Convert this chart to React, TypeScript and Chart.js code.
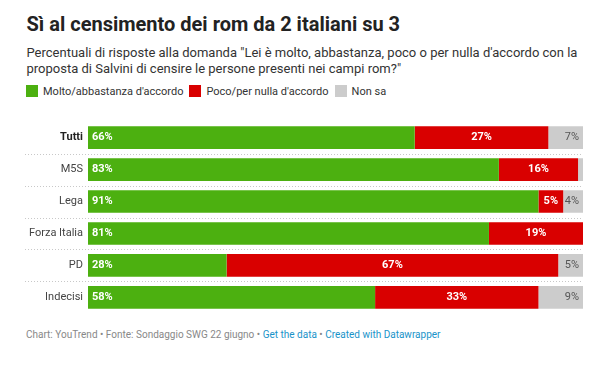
import React, { useEffect, useRef } from "react";
import { Chart, registerables } from "chart.js";

Chart.register(...registerables);

const categories = ["Tutti", "M5S", "Lega", "Forza Italia", "PD", "Indecisi"];
const molto = [66, 83, 91, 81, 28, 58];
const poco = [27, 16, 5, 19, 67, 33];
const nonSa = [7, 1, 4, 0, 5, 9];
const seriesNames = ["Molto/abbastanza d'accordo", "Poco/per nulla d'accordo", "Non sa"];
const colors = ["#4cb010", "#d90000", "#cccccc"];

const FONT = "Roboto, 'Noto Sans', sans-serif";

const separatorPlugin = {
  id: "separators",
  beforeDatasetsDraw(chart: any) {
    const { ctx, chartArea } = chart;
    const y = chart.scales.y;
    ctx.save();
    ctx.strokeStyle = "#c8c8c8";
    ctx.lineWidth = 1;
    ctx.setLineDash([1, 2]);
    for (let i = 0; i < categories.length - 1; i++) {
      const yy = Math.round((y.getPixelForValue(i) + y.getPixelForValue(i + 1)) / 2) + 0.5;
      ctx.beginPath();
      ctx.moveTo(17, yy);
      ctx.lineTo(chartArea.right, yy);
      ctx.stroke();
    }
    ctx.restore();
  },
};

const labelPlugin = {
  id: "barLabels",
  afterDatasetsDraw(chart: any) {
    const { ctx } = chart;
    ctx.save();
    ctx.textBaseline = "middle";
    chart.data.datasets.forEach((ds: any, di: number) => {
      const meta = chart.getDatasetMeta(di);
      meta.data.forEach((el: any, i: number) => {
        const v = ds.data[i];
        if (v < 3) return;
        const txt = v + "%";
        const start = Math.min(el.base, el.x);
        const end = Math.max(el.base, el.x);
        if (di === 0) {
          ctx.font = `bold 11px ${FONT}`;
          ctx.fillStyle = "#ffffff";
          ctx.textAlign = "left";
          ctx.fillText(txt, start + 4, el.y);
        } else if (di === 1) {
          ctx.font = `bold 11px ${FONT}`;
          ctx.fillStyle = "#ffffff";
          ctx.textAlign = "center";
          ctx.fillText(txt, (start + end) / 2, el.y);
        } else {
          ctx.font = `11px ${FONT}`;
          ctx.fillStyle = "#555555";
          ctx.textAlign = "right";
          ctx.fillText(txt, end - 4, el.y);
        }
      });
    });
    ctx.restore();
  },
};

function BarChart() {
  const ref = useRef<HTMLCanvasElement>(null);
  useEffect(() => {
    if (!ref.current) return;
    const chart = new Chart(ref.current, {
      type: "bar",
      data: {
        labels: categories,
        datasets: [molto, poco, nonSa].map((d, i) => ({
          label: seriesNames[i],
          data: d,
          backgroundColor: colors[i],
          borderWidth: 0,
          barPercentage: 0.71,
          categoryPercentage: 1,
        })),
      },
      options: {
        indexAxis: "y",
        animation: false,
        responsive: false,
        maintainAspectRatio: false,
        layout: { padding: { top: 7, bottom: 4, right: 20, left: 0 } },
        plugins: { legend: { display: false }, tooltip: { enabled: false } },
        scales: {
          x: { stacked: true, min: 0, max: 100, display: false },
          y: {
            stacked: true,
            grid: { display: false, drawTicks: false },
            border: { display: false },
            ticks: {
              padding: 5,
              color: (c: any) => (c.index === 0 ? "#222222" : "#444444"),
              font: (c: any) => ({ family: FONT, size: 11, weight: c.index === 0 ? "bold" : "normal" }),
            },
            afterFit: (s: any) => {
              s.width = 80;
            },
          },
        },
      },
      plugins: [separatorPlugin, labelPlugin],
    });
    return () => chart.destroy();
  }, []);
  return <canvas ref={ref} width={595} height={215} style={{ position: "absolute", left: 0, top: 102, width: 595, height: 215 }} />;
}

export default function App() {
  const item = (c: string, label: string) => (
    <span style={{ display: "inline-flex", alignItems: "center", marginRight: 6 }}>
      <span style={{ display: "inline-block", width: 12, height: 12, background: c, marginRight: 5 }} />
      {label}
    </span>
  );
  return (
    <div style={{ position: "relative", width: 595, height: 350, fontFamily: FONT, color: "#333" }}>
      <div style={{ position: "absolute", left: 18.5, top: 4, fontSize: 20, fontWeight: 700, color: "#222", whiteSpace: "nowrap" }}>
        Sì al censimento dei rom da 2 italiani su 3
      </div>
      <div style={{ position: "absolute", left: 18.5, top: 37, width: 572, fontSize: 13, lineHeight: "16px", color: "#333" }}>
        Percentuali di risposte alla domanda "Lei è molto, abbastanza, poco o per nulla d'accordo con la proposta di Salvini di censire le persone presenti nei campi rom?"
      </div>
      <div style={{ position: "absolute", left: 18, top: 77, height: 12.6, display: "flex", alignItems: "center", fontSize: 11, color: "#333", whiteSpace: "nowrap" }}>
        {item(colors[0], seriesNames[0])}
        {item(colors[1], seriesNames[1])}
        {item(colors[2], seriesNames[2])}
      </div>
      <BarChart />
      <div style={{ position: "absolute", left: 18, top: 321, fontSize: 10, color: "#888", whiteSpace: "nowrap" }}>
        Chart: YouTrend • Fonte: Sondaggio SWG 22 giugno • <span style={{ color: "#1a93c9" }}>Get the data</span> •{" "}
        <span style={{ color: "#1a93c9" }}>Created with Datawrapper</span>
      </div>
    </div>
  );
}
